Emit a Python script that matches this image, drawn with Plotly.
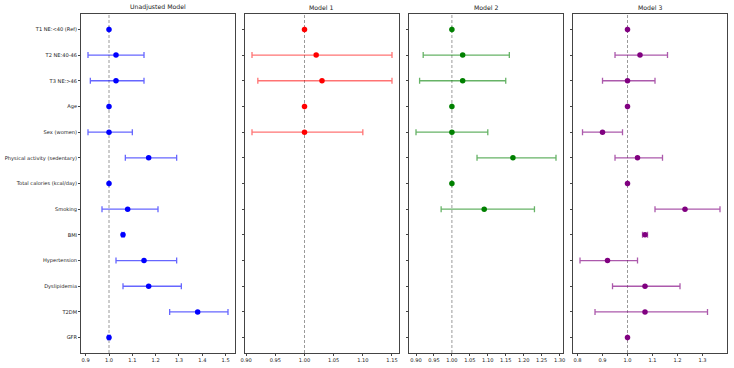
import plotly.graph_objects as go
from plotly.subplots import make_subplots

# 変数ラベル（上から順）
variables = [
    'T1 NE:<40 (Ref)', 'T2 NE:40-46', 'T3 NE:>46', 'Age', 'Sex (women)',
    'Physical activity (sedentary)', 'Total calories (kcal/day)', 'Smoking',
    'BMI', 'Hypertension', 'Dyslipidemia', 'T2DM', 'GFR',
]

model_names = ['Unadjusted Model', 'Model 1', 'Model 2', 'Model 3']

# オッズ比と95%信頼区間（None = モデルに含まれない）
unadj_or = [1.00, 1.03, 1.03, 1.00, 1.00, 1.17, 1.00, 1.08, 1.06, 1.15, 1.17, 1.38, 1.00]
unadj_lo = [1.00, 0.91, 0.92, 1.00, 0.91, 1.07, 1.00, 0.97, 1.055, 1.03, 1.06, 1.26, 0.995]
unadj_hi = [1.00, 1.15, 1.15, 1.00, 1.10, 1.29, 1.00, 1.21, 1.065, 1.29, 1.31, 1.51, 1.005]

m1_or = [1.00, 1.02, 1.03, 1.00, 1.00, None, None, None, None, None, None, None, None]
m1_lo = [1.00, 0.91, 0.92, 1.00, 0.91, None, None, None, None, None, None, None, None]
m1_hi = [1.00, 1.15, 1.15, 1.00, 1.10, None, None, None, None, None, None, None, None]

m2_or = [1.00, 1.03, 1.03, 1.00, 1.00, 1.17, 1.00, 1.09, None, None, None, None, None]
m2_lo = [1.00, 0.92, 0.91, 1.00, 0.90, 1.07, 1.00, 0.97, None, None, None, None, None]
m2_hi = [1.00, 1.16, 1.15, 1.00, 1.10, 1.29, 1.00, 1.23, None, None, None, None, None]

m3_or = [1.00, 1.05, 1.00, 1.00, 0.90, 1.04, 1.00, 1.23, 1.07, 0.92, 1.07, 1.07, 1.00]
m3_lo = [1.00, 0.95, 0.90, 1.00, 0.82, 0.95, 1.00, 1.11, 1.06, 0.81, 0.94, 0.87, 1.00]
m3_hi = [1.00, 1.16, 1.11, 1.00, 0.98, 1.14, 1.00, 1.37, 1.08, 1.04, 1.21, 1.32, 1.00]

models = [
    (unadj_or, unadj_lo, unadj_hi),
    (m1_or, m1_lo, m1_hi),
    (m2_or, m2_lo, m2_hi),
    (m3_or, m3_lo, m3_hi),
]

colors = ['#0000ff', '#ff0000', '#008000', '#800080']
bar_colors = ['rgba(0,0,255,0.6)', 'rgba(255,0,0,0.55)', 'rgba(0,128,0,0.6)', 'rgba(128,0,128,0.65)']

x_ranges = [[0.88, 1.54], [0.898, 1.162], [0.8805, 1.3095], [0.782, 1.398]]
x_ticks = [
    [0.9, 1.0, 1.1, 1.2, 1.3, 1.4, 1.5],
    [0.90, 0.95, 1.00, 1.05, 1.10, 1.15],
    [0.90, 0.95, 1.00, 1.05, 1.10, 1.15, 1.20, 1.25, 1.30],
    [0.8, 0.9, 1.0, 1.1, 1.2, 1.3],
]
x_fmt = ['.1f', '.2f', '.2f', '.1f']

FONT = 'DejaVu Sans'
TICK_SIZE = 5.1
TITLE_SIZE = 6.2
SPINE = '#444'

fig = make_subplots(rows=1, cols=4, shared_yaxes=True, horizontal_spacing=0.0155)

rows = list(range(len(variables)))

for i, (ors, los, his) in enumerate(models):
    ys = [r for r, v in zip(rows, ors) if v is not None]
    xs = [v for v in ors if v is not None]
    plus = [h - o for o, h in zip(ors, his) if o is not None]
    minus = [o - l for o, l in zip(ors, los) if o is not None]
    fig.add_trace(go.Scatter(
        x=xs, y=ys, mode='markers',
        marker=dict(color=colors[i], size=5.5),
        error_x=dict(type='data', symmetric=False, array=plus, arrayminus=minus,
                     color=bar_colors[i], thickness=1.3, width=3),
        showlegend=False,
    ), row=1, col=i + 1)

    # 基準線 (OR = 1)
    fig.add_shape(type='line', x0=1.0, x1=1.0, y0=0, y1=1,
                  xref=f'x{i + 1 if i else ""}', yref='paper', layer='below',
                  line=dict(color='gray', width=0.8, dash='3px,2px'))

    fig.update_xaxes(
        range=x_ranges[i], tickvals=x_ticks[i],
        ticktext=[format(t, x_fmt[i]) for t in x_ticks[i]],
        showgrid=False, zeroline=False, showline=True, mirror=True,
        linecolor=SPINE, linewidth=0.8, ticks='outside', ticklen=2,
        tickcolor=SPINE, tickwidth=0.6,
        tickfont=dict(size=TICK_SIZE, color='#222', family=FONT),
        row=1, col=i + 1,
    )

fig.update_yaxes(
    range=[12.6, -0.6], tickvals=rows, ticktext=variables,
    showgrid=False, zeroline=False, showline=True, mirror=True,
    linecolor=SPINE, linewidth=0.8, ticks='outside', ticklen=2,
    tickcolor=SPINE, tickwidth=0.6,
    tickfont=dict(size=TICK_SIZE, color='#222', family=FONT),
)

# サブプロットタイトル
for i, name in enumerate(model_names):
    xa = fig.layout[f'xaxis{i + 1 if i else ""}']
    fig.add_annotation(
        text=name, x=(xa.domain[0] + xa.domain[1]) / 2, y=1.0,
        xref='paper', yref='paper', xanchor='center', yanchor='bottom',
        yshift=1, showarrow=False,
        font=dict(size=TITLE_SIZE, color='#222', family=FONT),
    )

fig.update_layout(
    width=734, height=368,
    margin=dict(l=81, r=5, t=14, b=15),
    plot_bgcolor='white', paper_bgcolor='white',
    font=dict(family=FONT),
)

# ページ本体の余白を消す・モードバー非表示
fig.write_html('out.html', config={'displayModeBar': False},
               post_script="document.body.style.margin='0';")
